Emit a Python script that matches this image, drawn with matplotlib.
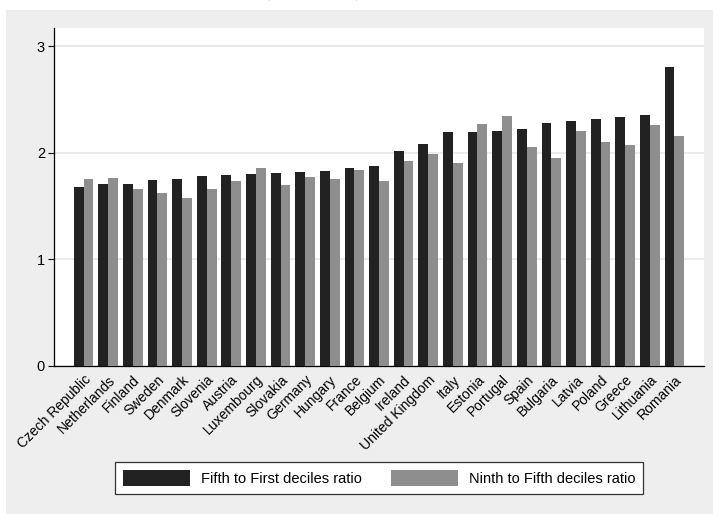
import matplotlib.pyplot as plt
import matplotlib.patches as mpatches
import numpy as np

plt.rcParams['font.family'] = ['Liberation Sans', 'DejaVu Sans']

countries = ['Czech Republic', 'Netherlands', 'Finland', 'Sweden', 'Denmark',
             'Slovenia', 'Austria', 'Luxembourg', 'Slovakia', 'Germany',
             'Hungary', 'France', 'Belgium', 'Ireland', 'United Kingdom',
             'Italy', 'Estonia', 'Portugal', 'Spain', 'Bulgaria', 'Latvia',
             'Poland', 'Greece', 'Lithuania', 'Romania']
fifth_first = [1.68, 1.71, 1.71, 1.74, 1.75, 1.78, 1.79, 1.80, 1.81, 1.82,
               1.83, 1.86, 1.87, 2.02, 2.08, 2.19, 2.19, 2.20, 2.22, 2.28,
               2.30, 2.32, 2.33, 2.35, 2.80]
ninth_fifth = [1.75, 1.76, 1.66, 1.62, 1.57, 1.66, 1.73, 1.86, 1.70, 1.77,
               1.75, 1.84, 1.73, 1.92, 1.99, 1.90, 2.27, 2.34, 2.05, 1.95,
               2.20, 2.10, 2.07, 2.26, 2.16]
yticks = [0, 1, 2, 3]

label1 = 'Fifth to First deciles ratio'
label2 = 'Ninth to Fifth deciles ratio'
title_string = 'Deciles ratios by year (average)'

W, H = 713, 514
fig = plt.figure(figsize=(W / 100, H / 100), dpi=100, facecolor='white')

# grey graph region
bg = mpatches.Rectangle((6 / W, 0), 1 - 6 / W, (H - 10) / H,
                        transform=fig.transFigure, facecolor='#eeeeee',
                        edgecolor='none', zorder=-5)
fig.add_artist(bg)

# title, cut off at the top edge like in the original
fig.text(367 / W, 1 + 4 / H, title_string, ha='right', va='baseline',
         family='Liberation Serif', style='italic', fontsize=19)

ax = fig.add_axes([54 / W, (H - 365.7) / H, (704 - 54) / W, (365.7 - 28) / H])
ax.set_zorder(1)
ax.set_facecolor('white')

n = len(countries)
x = np.arange(n)
w = 0.40
ax.bar(x - w / 2, fifth_first, width=w, color='#222222', zorder=3)
ax.bar(x + w / 2, ninth_fifth, width=w, color='#8e8e8e', zorder=3)

ax.set_xlim(-1.2, n - 1 + 1.2)
ax.set_ylim(0, 3.17)
ax.set_yticks(yticks)
ax.set_yticklabels([str(t) for t in yticks])
ax.yaxis.grid(True, color='#e8e8e8', linewidth=1.2, zorder=0)
ax.set_axisbelow(True)

ax.set_xticks(x)
ax.set_xticklabels(countries, rotation=45, ha='right', rotation_mode='anchor',
                   fontsize=10)
ax.tick_params(axis='x', length=0, pad=5)
ax.tick_params(axis='y', length=4.5, width=0.8, labelsize=10.5, pad=2)

for s in ['top', 'right']:
    ax.spines[s].set_visible(False)
ax.spines['left'].set_linewidth(0.9)
ax.spines['bottom'].set_linewidth(0.9)

h1 = mpatches.Patch(facecolor='#222222')
h2 = mpatches.Patch(facecolor='#8e8e8e')
leg = fig.legend([h1, h2], [label1, label2], loc='center',
                 bbox_to_anchor=(379 / W, (H - 478) / H), ncol=2,
                 fontsize=10.5, frameon=True, fancybox=False,
                 edgecolor='#333333', facecolor='white', framealpha=1,
                 handlelength=4.6, handleheight=1.25,
                 columnspacing=2.0, handletextpad=0.75, borderpad=0.55)
leg.get_frame().set_linewidth(0.9)

fig.savefig('out.png', dpi=100, facecolor='white')
